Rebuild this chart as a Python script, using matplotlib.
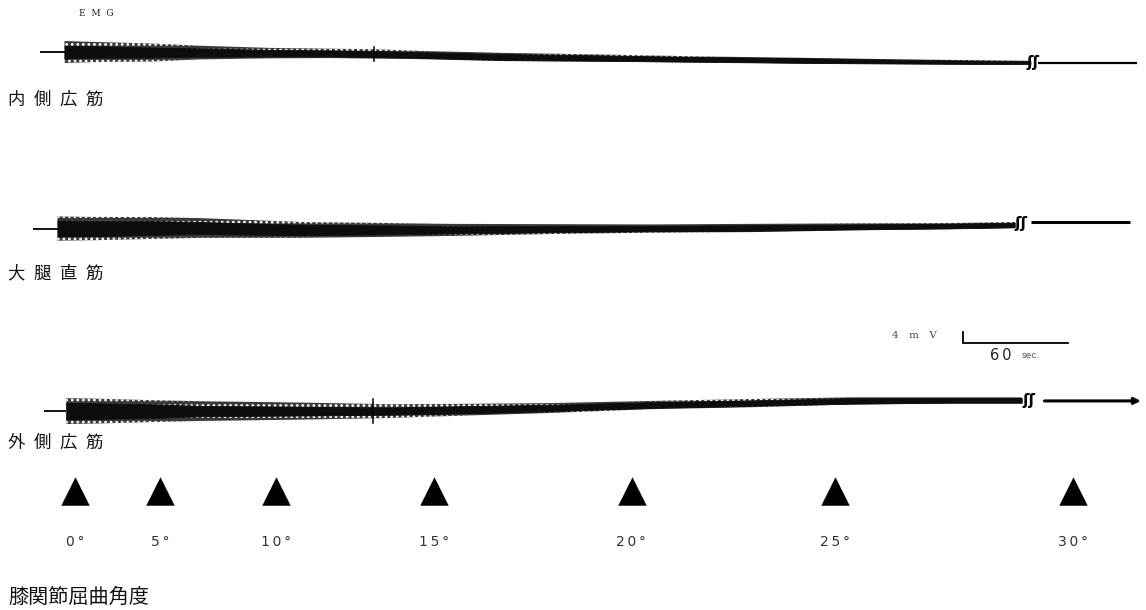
import matplotlib.pyplot as plt

# -----------------------------
# Fonts
# -----------------------------
plt.rcParams['font.family'] = ['Noto Sans CJK JP', 'DejaVu Sans']
plt.rcParams['hatch.linewidth'] = 1.2

# -----------------------------
# Data (time in sec, amplitudes in mV)
# -----------------------------
muscle_labels = ['内\u2002側\u2002広\u2002筋', '大\u2002腿\u2002直\u2002筋', '外\u2002側\u2002広\u2002筋']

angle_labels = ['0\u2009°', '5\u2009°', '1\u20090\u2009°', '1\u20095\u2009°',
                '2\u20090\u2009°', '2\u20095\u2009°', '3\u20090\u2009°']
angle_times = [0, 48.5, 115, 205, 318, 434, 570]

# 内側広筋
vm_time = [-6, 14, 43, 71, 111, 146, 171, 197, 243, 300, 357, 414, 471, 529, 546]
vm_drift = [0, 0, -0.2, -0.2, -0.4, -0.5, -0.7, -1.1, -1.8, -2.2, -2.7, -3.1, -3.5, -3.8, -3.8]
vm_core = [2.3, 2.1, 1.8, 1.5, 1.2, 1.1, 1.1, 1.0, 1.1, 1.0, 0.85, 0.85, 0.7, 0.6, 0.55]
vm_outer = [4.0, 3.6, 3.3, 2.5, 1.9, 1.7, 1.7, 1.5, 1.5, 1.3, 1.1, 1.0, 0.85, 0.7, 0.6]
vm_spike = (171, 2.6)
vm_pre = -20
vm_after = (550, 607, -4.0)
vm_break = (547.5, -3.9)

# 大腿直筋
rf_time = [-10, 14, 43, 71, 129, 180, 214, 271, 329, 386, 443, 500, 537]
rf_drift = [-0.2, -0.2, 0, 0, -0.7, -0.7, -0.7, -0.4, -0.2, 0, 0.4, 0.7, 1.1]
rf_core = [2.9, 2.7, 2.5, 2.2, 1.9, 1.6, 1.3, 1.2, 1.0, 1.0, 0.85, 0.85, 0.85]
rf_outer = [4.4, 4.2, 4.0, 3.6, 2.9, 2.5, 2.2, 1.8, 1.5, 1.5, 1.3, 1.1, 1.1]
rf_spike = None
rf_pre = -24
rf_after = (546, 603, 2.2)
rf_break = (540.5, 1.8)

# 外側広筋
vl_time = [-5, 14, 43, 71, 129, 180, 214, 271, 329, 386, 443, 500, 541]
vl_drift = [-0.4, -0.4, -0.4, -0.4, -0.4, -0.4, 0, 0.7, 1.8, 2.5, 3.3, 3.5, 3.5]
vl_core = [3.0, 2.8, 2.5, 1.9, 1.6, 1.3, 1.3, 1.2, 1.0, 1.0, 1.0, 0.85, 0.85]
vl_outer = [4.7, 4.5, 4.0, 3.6, 3.1, 2.5, 2.2, 1.8, 1.5, 1.5, 1.3, 1.1, 1.1]
vl_spike = (170, 4.5)
vl_pre = -18
vl_after = (554, 609, 3.3)
vl_break = (545, 3.4)

scale_mv = 4
scale_sec = 60

# -----------------------------
# Layout
# -----------------------------
PX_PER_MV = 11 / 4
SEC_PER_PX = 60 / 105
ORIGIN_PX = 75
ROWS = [52, 228, 410]


def px_to_sec(px):
    return (px - ORIGIN_PX) * SEC_PER_PX


def draw_trace(ax, row, t, drift, core, outer, spike, pre, after, brk):
    center = [row - d * PX_PER_MV for d in drift]
    lo_o = [c - o * PX_PER_MV for c, o in zip(center, outer)]
    hi_o = [c + o * PX_PER_MV for c, o in zip(center, outer)]
    lo_c = [c - k * PX_PER_MV for c, k in zip(center, core)]
    hi_c = [c + k * PX_PER_MV for c, k in zip(center, core)]

    # baseline before onset
    ax.plot([pre, t[0]], [center[0], center[0]], color='black', lw=1.3,
            solid_capstyle='butt')
    # speckled outer band: dark fill broken up by white dots
    ax.fill_between(t, lo_o, hi_o, facecolor='#3a3a3a', edgecolor='white',
                    hatch='...', linewidth=0)
    # dense core
    ax.fill_between(t, lo_c, hi_c, facecolor='#0d0d0d', edgecolor='#0d0d0d',
                    linewidth=0.6)
    if spike is not None:
        st, amp = spike
        i = min(range(len(t)), key=lambda k: abs(t[k] - st))
        ax.plot([st, st], [center[i] - amp * PX_PER_MV, center[i] + amp * PX_PER_MV],
                color='black', lw=1.1)

    # break mark and segment after the break
    bt, bv = brk
    ax.text(bt, row - bv * PX_PER_MV, 'ʃʃ', family=['DejaVu Sans'], fontsize=11,
            fontweight='bold', ha='center', va='center', color='black')
    a0, a1, av = after
    ay = row - av * PX_PER_MV
    return a0, a1, ay


fig = plt.figure(figsize=(11.46, 6.10), dpi=100)
ax = fig.add_axes([0, 0, 1, 1])
ax.set_xlim(px_to_sec(0), px_to_sec(1146))
ax.set_ylim(610, 0)
ax.axis('off')

traces = [
    (vm_time, vm_drift, vm_core, vm_outer, vm_spike, vm_pre, vm_after, vm_break),
    (rf_time, rf_drift, rf_core, rf_outer, rf_spike, rf_pre, rf_after, rf_break),
    (vl_time, vl_drift, vl_core, vl_outer, vl_spike, vl_pre, vl_after, vl_break),
]

label_y = [100, 273, 443]
for k, (row, tr) in enumerate(zip(ROWS, traces)):
    a0, a1, ay = draw_trace(ax, row, *tr)
    if k == 2:
        ax.annotate('', xy=(a1, ay), xytext=(a0, ay),
                    arrowprops=dict(arrowstyle='-|>', color='black', lw=2.2,
                                    mutation_scale=9, shrinkA=0, shrinkB=0))
    else:
        ax.plot([a0, a1], [ay, ay], color='black', lw=2.2 if k == 1 else 1.6,
                solid_capstyle='butt')
    ax.text(px_to_sec(8), label_y[k], muscle_labels[k], fontsize=12.5,
            ha='left', va='center', color='#111111')

# EMG title
ax.text(px_to_sec(96), 13, 'E  M  G', family=['DejaVu Serif'], fontsize=6.5,
        ha='center', va='center', color='#222222')

# Scale bar
sb_t = px_to_sec(963)
sb_y = 343
ax.plot([sb_t, sb_t, sb_t + scale_sec], [sb_y - scale_mv * PX_PER_MV, sb_y, sb_y],
        color='black', lw=1.3, solid_joinstyle='miter')
ax.text(px_to_sec(914), 336, '4\u2002\u2002m\u2002\u2002V', family=['DejaVu Serif'],
        fontsize=7.5, ha='center', va='center', color='#444444')
ax.text(px_to_sec(990), 355, '6\u20090', family=['DejaVu Sans'], fontsize=10.5,
        ha='left', va='center', color='#222222')
ax.text(px_to_sec(1022), 356, 'sec.', family=['DejaVu Sans'], fontsize=6.5,
        ha='left', va='center', color='#555555')

# Knee angle markers
ax.scatter(angle_times, [491] * len(angle_times), marker='^', s=420,
           color='black', linewidths=0)
for t, lab in zip(angle_times, angle_labels):
    ax.text(t, 542, lab, family=['DejaVu Sans'], fontsize=10, ha='center',
            va='center', color='#333333')

ax.text(px_to_sec(8), 597, '膝関節屈曲角度', fontsize=14.5, ha='left',
        va='center', color='#111111')

fig.savefig('out.png', dpi=100)
